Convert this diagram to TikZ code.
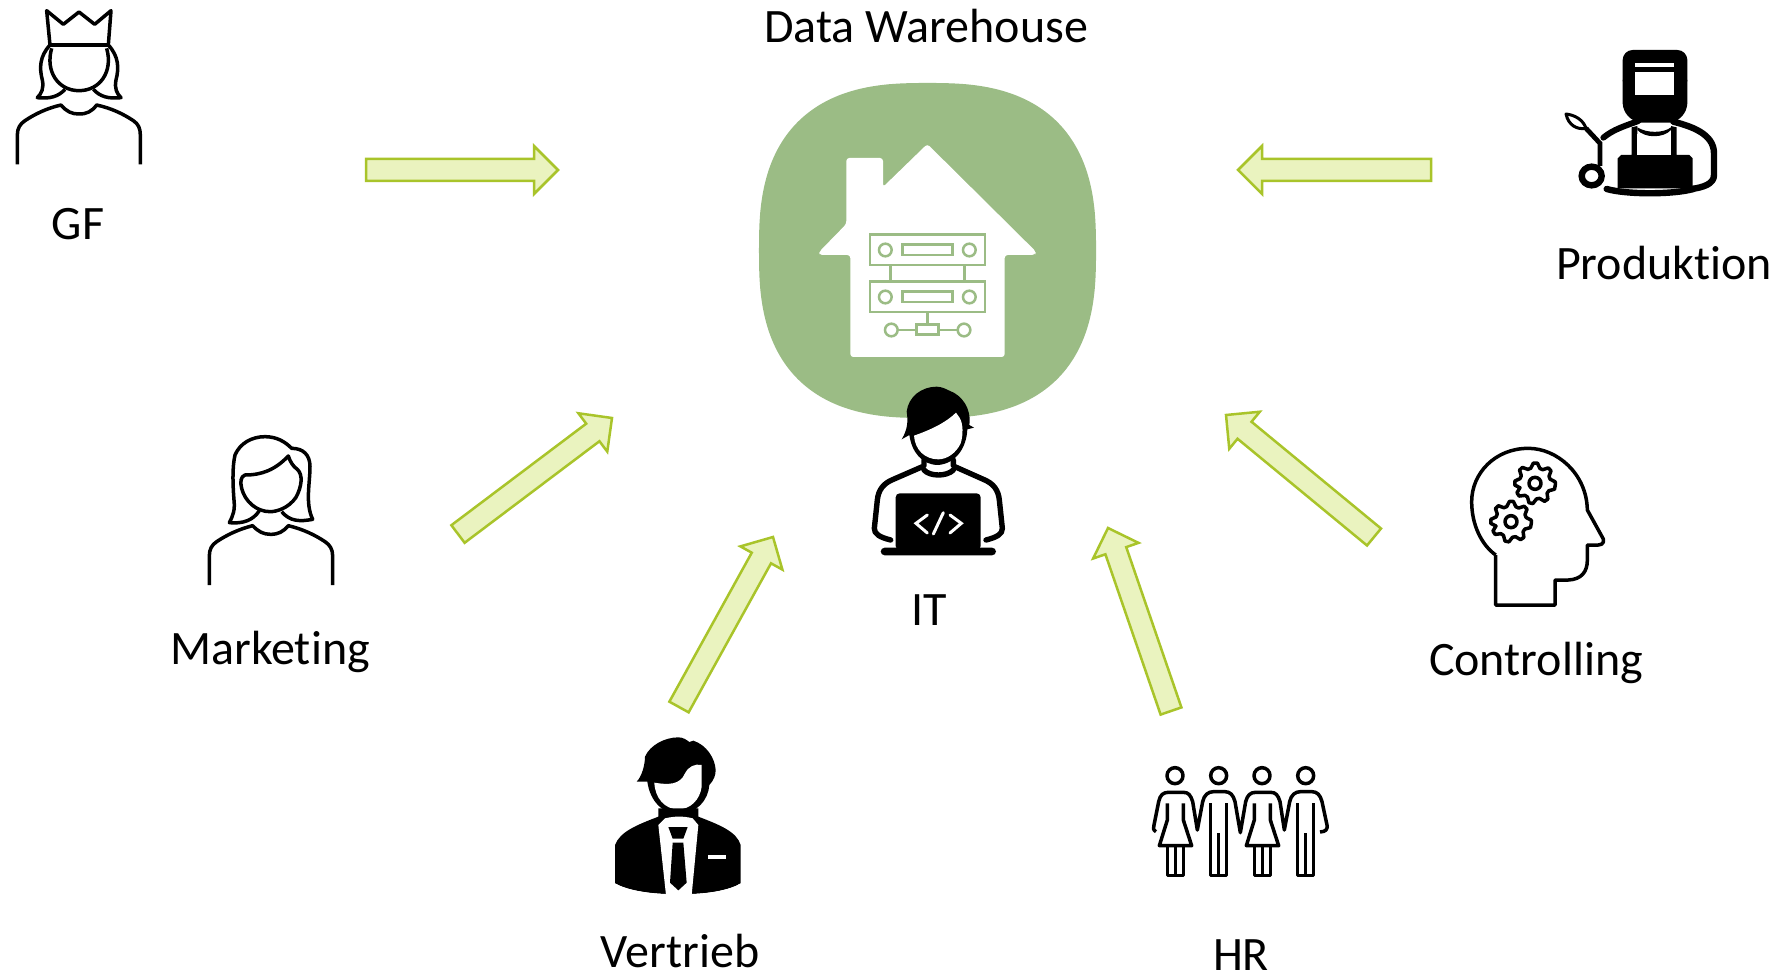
\documentclass[tikz,border=0pt]{standalone}
\usepackage{fontspec}
\setmainfont[Ligatures={NoCommon,NoRequired,NoContextual}]{Carlito}
\usetikzlibrary{calc}
\definecolor{blobgreen}{HTML}{9BBC85}
\definecolor{arrowfill}{HTML}{EAF3BF}
\definecolor{arrowline}{HTML}{A9C42A}
\newcommand\blockarrow[2]{%
  \coordinate (nk) at ($(#2)!12pt!(#1)$);
  \draw[blockstyle] ($(#1)!5.5pt!90:(#2)$) -- ($(nk)!5.5pt!90:(#2)$) -- ($(nk)!12pt!90:(#2)$) -- (#2)
    -- ($(nk)!12pt!-90:(#2)$) -- ($(nk)!5.5pt!-90:(#2)$) -- ($(#1)!5.5pt!-90:(#2)$) -- cycle;}
\tikzset{
  blockstyle/.style={draw=arrowline,fill=arrowfill,line width=1.25pt,miter limit=10},
  label/.style={font=\fontsize{24}{28}\selectfont,text=black,inner sep=0pt,anchor=base},
  thinicon/.style={draw=black,line width=1.75pt,line join=round,fill=none},
  srv/.style={draw=blobgreen,line width=1.25pt,fill=none},
  thick/.style={draw=black,line width=2.7pt,line cap=round,line join=round},
  gearstyle/.style={draw=black,line width=1.75pt,line join=round,fill=white}
}
\begin{document}
\begin{tikzpicture}[x=0.5pt,y=-0.5pt]
\useasboundingbox (0,0) rectangle (1777,973);
\fill[white] (0,0) rectangle (1777,973);
% blob
\fill[blobgreen] plot[domain=0:360,samples=361] ({927.5+168.5*pow(abs(cos(\x))+0.0001,0.76)*((cos(\x)<0)?-1:1)},{250.5+167.5*pow(abs(sin(\x))+0.0001,0.76)*((sin(\x)<0)?-1:1)}) -- cycle;
% house
\begin{scope}[shift={(740,70)},scale=0.33333]
\fill[white,rounded corners=1.5pt] (562,222) -- (888,545) -- (885,555) -- (794,555) -- (794,861) -- (331,861) -- (331,555) -- (238,555) -- (238,545) -- (319,462) -- (319,264) -- (429,264) -- (429,351) -- cycle;
\foreach \yy in {0,141}{
  \draw[srv] (390,493+\yy) rectangle (735,585+\yy);
  \draw[srv] (436,540+\yy) circle (19);
  \draw[srv] (688,540+\yy) circle (19);
  \draw[srv] (488,524+\yy) rectangle (637,555+\yy);
}
\draw[srv] (451,585) -- (451,634);
\draw[srv] (674,585) -- (674,634);
\draw[srv] (562,726) -- (562,764);
\draw[srv] (530,764) rectangle (596,794);
\draw[srv] (454,780) circle (19);
\draw[srv] (672,780) circle (19);
\draw[srv] (473,780) -- (530,780);
\draw[srv] (596,780) -- (653,780);
\end{scope}
% GF
\begin{scope}[scale=0.33333]
\draw[thinicon] (140,32) -- (150,135) -- (325,135) -- (333,32) -- (284,73) -- (237,36) -- (190,73) -- cycle;
\draw[draw=black,line width=2.2pt] (150,135) -- (325,135);
\draw[thinicon] (155,145) .. controls (135,215) and (175,272) .. (237,272) .. controls (300,272) and (340,215) .. (320,145);
\draw[thinicon] (150,135) .. controls (118,170) and (118,205) .. (127,240) .. controls (132,265) and (125,280) .. (112,293) .. controls (150,297) and (175,290) .. (195,268);
\draw[thinicon] (325,135) .. controls (357,170) and (357,205) .. (348,240) .. controls (343,265) and (350,280) .. (363,293) .. controls (325,297) and (300,290) .. (280,268);
\draw[thinicon] (52,493) -- (52,405) .. controls (52,385) and (60,372) .. (75,362) .. controls (105,342) and (140,325) .. (183,315) .. controls (200,335) and (215,342) .. (237,342) .. controls (260,342) and (275,335) .. (290,315) .. controls (335,325) and (370,342) .. (400,362) .. controls (415,372) and (421,385) .. (421,405) -- (421,493);
\end{scope}
% Marketing
\begin{scope}[shift={(190,420)},scale=0.33333]
\draw[thinicon] (58,495) -- (58,408) .. controls (58,388) and (65,375) .. (80,365) .. controls (110,345) and (145,328) .. (188,317) .. controls (205,335) and (220,343) .. (242,343) .. controls (265,343) and (280,335) .. (295,317) .. controls (340,328) and (375,345) .. (405,365) .. controls (420,375) and (428,388) .. (428,408) -- (428,495);
\draw[thinicon] (165,165) .. controls (215,165) and (255,150) .. (295,108) .. controls (300,125) and (310,140) .. (322,148) .. controls (340,165) and (335,200) .. (318,232) .. controls (295,265) and (260,275) .. (240,275) .. controls (200,275) and (165,245) .. (155,205) .. controls (150,185) and (152,170) .. (165,165) -- cycle;
\draw[thinicon] (208,272) .. controls (190,300) and (160,312) .. (118,308) .. controls (130,285) and (135,270) .. (132,240) .. controls (128,190) and (127,140) .. (135,105) .. controls (150,70) and (185,50) .. (225,50) .. controls (260,50) and (285,65) .. (305,85) .. controls (340,85) and (360,105) .. (360,140) .. controls (360,190) and (345,250) .. (368,298) .. controls (330,305) and (300,305) .. (275,275);
\end{scope}
% IT
\begin{scope}[shift={(850,380)},scale=0.33333]
\fill[black] (155,178) .. controls (172,150) and (175,125) .. (170,95) .. controls (175,50) and (215,20) .. (260,20) .. controls (275,20) and (290,28) .. (298,32) .. controls (335,45) and (365,85) .. (358,135) -- (372,143) -- (352,148) .. controls (350,200) and (320,250) .. (265,255) .. controls (215,255) and (185,215) .. (178,165) -- cycle;
\fill[white] (192,167) .. controls (240,150) and (285,130) .. (318,98) -- (328,112) .. controls (340,130) and (340,165) .. (332,190) .. controls (318,220) and (290,238) .. (265,238) .. controls (225,238) and (195,210) .. (192,167) -- cycle;
\draw[thick] (222,240) -- (222,258) -- (130,298) .. controls (100,310) and (85,330) .. (82,360) -- (73,445) .. controls (72,462) and (90,472) .. (122,480);
\draw[thick] (310,240) -- (310,258) -- (400,298) .. controls (430,310) and (445,330) .. (448,360) -- (457,445) .. controls (458,462) and (440,472) .. (408,480);
\draw[thick] (222,270) .. controls (240,290) and (290,290) .. (310,270);
\fill[black,rounded corners=2pt] (137,340) rectangle (392,510);
\fill[black,rounded corners=2pt] (92,503) rectangle (438,526);
\draw[white,line width=1.5pt,line cap=round,line join=miter] (232,405) -- (198,430) -- (232,459);
\draw[white,line width=1.5pt,line cap=round] (280,398) -- (250,462);
\draw[white,line width=1.5pt,line cap=round,line join=miter] (300,405) -- (334,430) -- (300,459);
\end{scope}
% Produktion
\begin{scope}[shift={(1550,40)},scale=0.33333]
\fill[black,rounded corners=5pt] (218,30) rectangle (412,150);
\fill[black] (218,120) -- (412,120) -- (412,190) .. controls (410,220) and (390,240) .. (365,248) -- (268,248) .. controls (240,240) and (220,220) .. (218,190) -- cycle;
\fill[white] (255,70) rectangle (372,80);
\fill[white] (255,97) rectangle (372,165);
\draw[thick,line width=3pt] (160,293) .. controls (190,268) and (225,258) .. (265,243);
\draw[thick,line width=3.2pt] (370,245) .. controls (420,258) and (492,280) .. (492,340) -- (492,405) .. controls (492,432) and (460,442) .. (425,447);
\draw[thick,line width=3.2pt] (170,447) .. controls (230,464) and (370,464) .. (430,447);
\fill[black] (245,262) -- (262,258) -- (262,345) -- (363,345) -- (363,258) -- (380,262) -- (380,345) -- (418,345) -- (428,355) -- (428,445) -- (203,445) -- (203,355) -- (213,345) -- (245,345) -- cycle;
\fill[white] (262,282) rectangle (363,345);
\fill[black] (262,262) .. controls (290,280) and (340,280) .. (363,262) -- (363,270) .. controls (340,295) and (285,295) .. (262,270) -- cycle;
\fill[white] (275,250) .. controls (300,262) and (330,262) .. (352,250) -- (345,265) .. controls (320,270) and (300,270) .. (280,265) -- cycle;
\draw[black,line width=1.5pt,fill=white,line join=round] (48,222) .. controls (75,225) and (100,240) .. (108,265) .. controls (80,270) and (55,255) .. (48,222) -- cycle;
\draw[black,line width=2.4pt] (108,265) -- (150,310) -- (150,378);
\draw[black,line width=3.2pt,fill=white] (125,408) ellipse (30 and 28);
\end{scope}
% Controlling
\begin{scope}[shift={(1450,430)},scale=0.33333]
\draw[thinicon] (137,375) -- (137,525) -- (315,525) -- (315,450) -- (355,450) .. controls (395,448) and (412,425) .. (412,390) -- (412,345) -- (445,345) .. controls (462,345) and (465,330) .. (455,318) -- (412,240) .. controls (410,130) and (320,55) .. (235,55) .. controls (135,55) and (65,130) .. (65,215) .. controls (65,285) and (95,345) .. (137,375);
\foreach \cx/\cy in {255/160,183/275}{
  \draw[gearstyle] plot[samples at={5.6,16.9,...,366}] ({\cx+(mod(\x+50,45)<22.5?61:47)*cos(\x)},{\cy+(mod(\x+50,45)<22.5?61:47)*sin(\x)}) -- cycle;
  \draw[gearstyle] (\cx,\cy) circle (18);
}
\end{scope}
% HR
\begin{scope}[shift={(1140,750)},scale=0.33333]
\foreach \s in {0,261}{
  \begin{scope}[shift={(\s,0)}]
  \draw[thinicon] (105,77) circle (24);
  \draw[thinicon] (236,77) circle (24);
  \draw[thinicon] (82,160) -- (82,210) -- (58,287) -- (155,287) -- (130,210) -- (130,160);
  \draw[thinicon] (82,287) -- (82,376) -- (130,376) -- (130,287);
  \draw[thinicon] (106,287) -- (106,376);
  \draw[thinicon] (212,160) -- (212,377) -- (260,377) -- (260,160);
  \draw[thinicon] (236,250) -- (236,377);
  \end{scope}
}
\draw[thinicon] (48,245) .. controls (38,240) and (40,232) .. (42,225) -- (56,155) .. controls (60,135) and (70,127) .. (85,127) -- (130,127) .. controls (145,127) and (152,135) .. (158,155) -- (172,240) -- (188,155) .. controls (192,135) and (205,125) .. (220,125) -- (255,125) .. controls (270,125) and (280,135) .. (285,155) -- (301,248) -- (317,155) .. controls (322,135) and (332,127) .. (347,127) -- (392,127) .. controls (407,127) and (414,135) .. (420,155) -- (433,240) -- (449,155) .. controls (453,135) and (466,125) .. (481,125) -- (516,125) .. controls (531,125) and (541,135) .. (546,155) -- (561,225) .. controls (563,238) and (558,245) .. (540,246);
\end{scope}
% Vertrieb
\begin{scope}[shift={(600,730)},scale=0.33333]
\fill[black] (110,155) .. controls (125,140) and (135,105) .. (135,80) .. controls (150,45) and (195,22) .. (235,22) .. controls (250,22) and (260,30) .. (268,36) -- (280,32) .. controls (320,45) and (345,85) .. (347,120) .. controls (347,135) and (342,150) .. (328,165) .. controls (325,210) and (290,252) .. (235,252) .. controls (190,252) and (150,215) .. (142,155) -- cycle;
\fill[white] (163,158) .. controls (205,165) and (240,165) .. (255,130) .. controls (265,110) and (285,100) .. (305,105) -- (305,170) .. controls (300,210) and (270,238) .. (235,238) .. controls (195,238) and (165,205) .. (163,158) -- cycle;
\fill[black] (45,490) -- (45,345) .. controls (60,305) and (110,285) .. (175,260) -- (175,235) -- (295,235) -- (295,260) .. controls (360,285) and (410,305) .. (422,345) -- (422,460) .. controls (390,480) and (330,490) .. (275,492) -- (198,492) .. controls (140,490) and (80,480) .. (45,460) -- cycle;
\fill[white] (45,460) .. controls (80,480) and (140,490) .. (198,492) -- (45,492) -- cycle;
\fill[white] (422,460) .. controls (390,480) and (330,490) .. (275,492) -- (422,492) -- cycle;
\fill[white] (195,265) .. controls (225,258) and (250,258) .. (278,265) -- (295,285) -- (275,495) -- (198,495) -- (175,285) -- cycle;
\fill[black] (205,291) -- (263,291) -- (250,326) -- (218,326) -- cycle;
\fill[black] (218,338) -- (250,338) -- (260,458) -- (235,481) -- (210,458) -- cycle;
\fill[white] (323,374) rectangle (378,386);
\end{scope}
% arrows
\coordinate (gfA) at (366,170); \coordinate (gfB) at (558,170);
\coordinate (prA) at (1431,170); \coordinate (prB) at (1238,170);
\coordinate (maA) at (458,534); \coordinate (maB) at (612,418);
\coordinate (veA) at (679,707); \coordinate (veB) at (773,537);
\coordinate (hrA) at (1171,711); \coordinate (hrB) at (1108,528);
\coordinate (coA) at (1374,537); \coordinate (coB) at (1226,415);
\blockarrow{gfA}{gfB}
\blockarrow{prA}{prB}
\blockarrow{maA}{maB}
\blockarrow{veA}{veB}
\blockarrow{hrA}{hrB}
\blockarrow{coA}{coB}
% labels
\node[label] (dw) at (926,43) {Data Warehouse};
\node[label] (gf) at (78,240) {GF};
\node[label] (pr) at (1664,279) {Produktion};
\node[label] (ma) at (270,664) {Marketing};
\node[label] (it) at (929,625) {IT};
\node[label] (co) at (1536,675) {Controlling};
\node[label] (ve) at (680,967) {Vertrieb};
\node[label] (hr) at (1241,970) {HR};
\end{tikzpicture}
\end{document}
